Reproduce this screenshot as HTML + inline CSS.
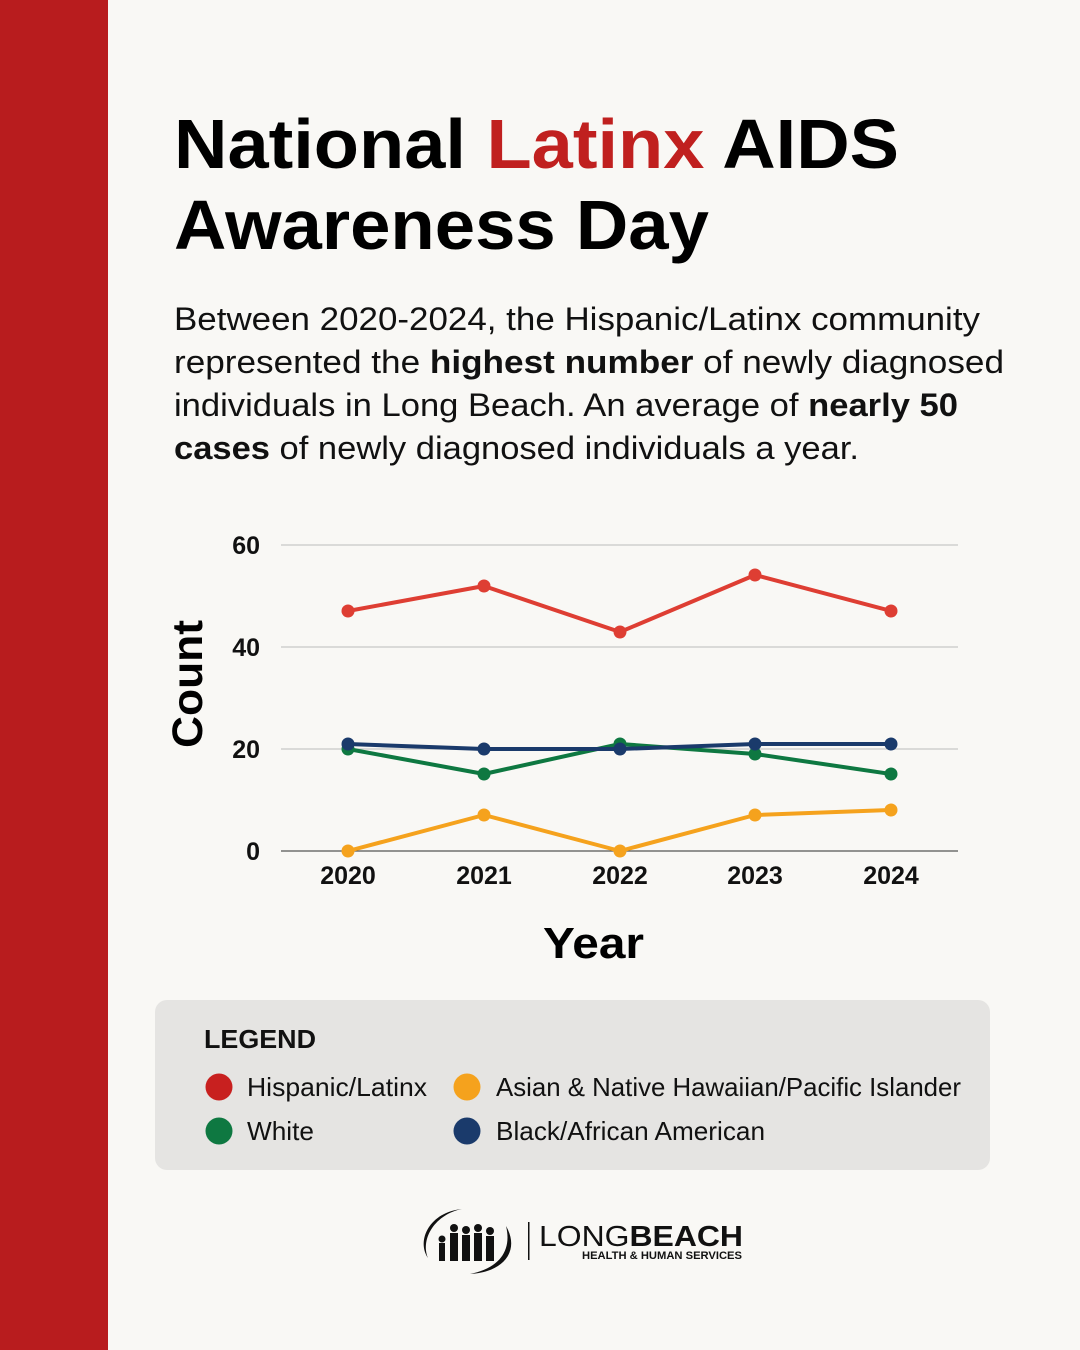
<!DOCTYPE html>
<html><head><meta charset="utf-8"><style>
html,body{margin:0;padding:0;background:#f9f8f5;}
svg{display:block;font-family:"Liberation Sans",sans-serif;}
</style></head><body>
<svg width="1080" height="1350" viewBox="0 0 1080 1350" xmlns="http://www.w3.org/2000/svg">
<rect width="1080" height="1350" fill="#f9f8f5"/>
<rect width="108" height="1350" fill="#b81c1e"/>
<g font-weight="bold" font-size="70" fill="#000">
<text x="174" y="168" textLength="725" lengthAdjust="spacingAndGlyphs">National <tspan fill="#c0201f">Latinx</tspan> AIDS</text>
<text x="174" y="249" textLength="535" lengthAdjust="spacingAndGlyphs">Awareness Day</text>
</g>
<g font-size="32" fill="#111">
<text x="174" y="330" textLength="806" lengthAdjust="spacingAndGlyphs">Between 2020-2024, the Hispanic/Latinx community</text>
<text x="174" y="373" textLength="830" lengthAdjust="spacingAndGlyphs">represented the <tspan font-weight="bold">highest number</tspan> of newly diagnosed</text>
<text x="174" y="416" textLength="784" lengthAdjust="spacingAndGlyphs">individuals in Long Beach. An average of <tspan font-weight="bold">nearly 50</tspan></text>
<text x="174" y="459" textLength="685" lengthAdjust="spacingAndGlyphs"><tspan font-weight="bold">cases</tspan> of newly diagnosed individuals a year.</text>
</g>
<g stroke="#c8c8c8" stroke-width="1.2">
<line x1="281" y1="545" x2="958" y2="545"/>
<line x1="281" y1="647" x2="958" y2="647"/>
<line x1="281" y1="749" x2="958" y2="749"/>
</g>
<line x1="281" y1="851" x2="958" y2="851" stroke="#555" stroke-width="1.3"/>
<g font-weight="bold" font-size="25" fill="#111" text-anchor="end">
<text x="260" y="554">60</text><text x="260" y="656">40</text><text x="260" y="758">20</text><text x="260" y="860">0</text>
</g>
<g font-weight="bold" font-size="25" fill="#111" text-anchor="middle">
<text x="348" y="884">2020</text><text x="484" y="884">2021</text><text x="620" y="884">2022</text><text x="755" y="884">2023</text><text x="891" y="884">2024</text>
</g>
<text x="543" y="958" font-weight="bold" font-size="44" textLength="101" lengthAdjust="spacingAndGlyphs">Year</text>
<text transform="translate(202,748) rotate(-90)" font-weight="bold" font-size="43" textLength="128" lengthAdjust="spacingAndGlyphs">Count</text>
<g fill="none" stroke-width="4" stroke-linejoin="round">
<polyline stroke="#de3e33" points="348,611 484,586 620,632 755,575 891,611"/>
<polyline stroke="#f5a21d" points="348,851 484,815 620,851 755,815 891,810"/>
<polyline stroke="#0e7841" points="348,749 484,774 620,744 755,754 891,774"/>
<polyline stroke="#1a3a6b" points="348,744 484,749 620,749 755,744 891,744"/>
</g>
<g fill="#de3e33"><circle cx="348" cy="611" r="6.5"/><circle cx="484" cy="586" r="6.5"/><circle cx="620" cy="632" r="6.5"/><circle cx="755" cy="575" r="6.5"/><circle cx="891" cy="611" r="6.5"/></g>
<g fill="#f5a21d"><circle cx="348" cy="851" r="6.5"/><circle cx="484" cy="815" r="6.5"/><circle cx="620" cy="851" r="6.5"/><circle cx="755" cy="815" r="6.5"/><circle cx="891" cy="810" r="6.5"/></g>
<g fill="#0e7841"><circle cx="348" cy="749" r="6.5"/><circle cx="484" cy="774" r="6.5"/><circle cx="620" cy="744" r="6.5"/><circle cx="755" cy="754" r="6.5"/><circle cx="891" cy="774" r="6.5"/></g>
<g fill="#1a3a6b"><circle cx="348" cy="744" r="6.5"/><circle cx="484" cy="749" r="6.5"/><circle cx="620" cy="749" r="6.5"/><circle cx="755" cy="744" r="6.5"/><circle cx="891" cy="744" r="6.5"/></g>
<rect x="155" y="1000" width="835" height="170" rx="12" fill="#e5e4e2"/>
<text x="204" y="1048" font-weight="bold" font-size="26" fill="#111" textLength="112" lengthAdjust="spacingAndGlyphs">LEGEND</text>
<circle cx="219" cy="1087" r="13.5" fill="#c8201f"/>
<circle cx="219" cy="1131" r="13.5" fill="#0e7841"/>
<circle cx="467" cy="1087" r="13.5" fill="#f5a21d"/>
<circle cx="467" cy="1131" r="13.5" fill="#1a3a6b"/>
<g font-size="26" fill="#111">
<text x="247" y="1096" textLength="180" lengthAdjust="spacingAndGlyphs">Hispanic/Latinx</text>
<text x="247" y="1140" textLength="67" lengthAdjust="spacingAndGlyphs">White</text>
<text x="496" y="1096" textLength="465" lengthAdjust="spacingAndGlyphs">Asian &amp; Native Hawaiian/Pacific Islander</text>
<text x="496" y="1140" textLength="269" lengthAdjust="spacingAndGlyphs">Black/African American</text>
</g>
<g fill="#111">
<path d="M462,1209 C430,1212 416,1240 428,1258 C420,1238 436,1214 462,1209Z"/>
<path d="M506,1226 C520,1250 505,1272 470,1274 C500,1268 512,1250 506,1226Z"/>
<circle cx="442" cy="1239" r="3.5"/><rect x="439" y="1243" width="6" height="18"/>
<circle cx="454" cy="1228" r="4"/><rect x="450" y="1233" width="8" height="28"/>
<circle cx="466" cy="1230" r="4"/><rect x="462" y="1235" width="8" height="26"/>
<circle cx="478" cy="1228" r="4"/><rect x="474" y="1233" width="8" height="28"/>
<circle cx="490" cy="1231" r="4"/><rect x="486" y="1236" width="8" height="25"/>
<rect x="528" y="1222" width="1.5" height="38"/>
<text x="539" y="1246" font-size="29" textLength="204" lengthAdjust="spacingAndGlyphs">LONG<tspan font-weight="bold">BEACH</tspan></text>
<text x="582" y="1259" font-size="11" font-weight="bold" textLength="160" lengthAdjust="spacingAndGlyphs">HEALTH &amp; HUMAN SERVICES</text>
</g>
</svg>
</body></html>
